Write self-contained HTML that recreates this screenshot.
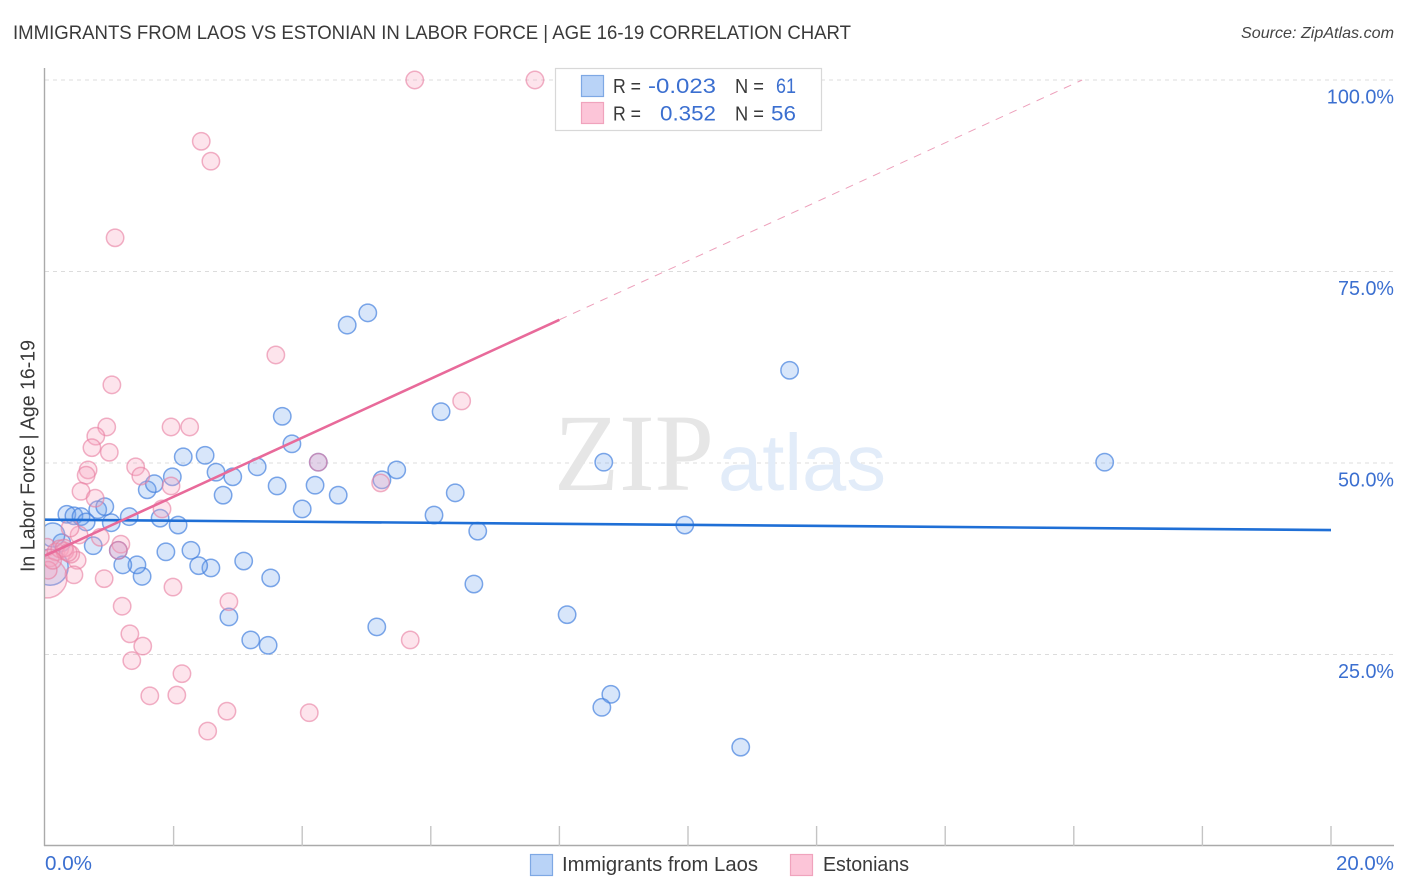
<!DOCTYPE html>
<html lang="en">
<head>
<meta charset="utf-8">
<title>Immigrants from Laos vs Estonian in Labor Force | Age 16-19 Correlation Chart</title>
<style>
html,body{margin:0;padding:0;background:#fff;width:1406px;height:892px;overflow:hidden}
svg{display:block;font-family:"Liberation Sans",sans-serif}
</style>
</head>
<body>
<svg id="chart" width="1406" height="892" viewBox="0 0 1406 892" xmlns="http://www.w3.org/2000/svg">
<defs><clipPath id="plot-clip"><rect x="45" y="60" width="1349" height="786"/></clipPath></defs>
<text x="13" y="39" font-size="19" fill="#3a3a3a" textLength="838" lengthAdjust="spacingAndGlyphs">IMMIGRANTS FROM LAOS VS ESTONIAN IN LABOR FORCE | AGE 16-19 CORRELATION CHART</text>
<text x="1394" y="38" font-size="16" font-style="italic" fill="#444" text-anchor="end" textLength="153" lengthAdjust="spacingAndGlyphs">Source: ZipAtlas.com</text>
<g id="grid"></g>
<text x="554" y="490" font-family="'Liberation Serif',serif" font-size="110" fill="#e6e6e6" textLength="160" lengthAdjust="spacingAndGlyphs">ZIP</text>
<text x="718" y="490" font-size="80" fill="#e2ecf9" textLength="168" lengthAdjust="spacingAndGlyphs">atlas</text>
<g id="axes"></g>
<g id="points" clip-path="url(#plot-clip)"></g>
<g id="lines"></g>
<text transform="translate(34.5,456) rotate(-90)" font-size="20" fill="#3a3a3a" text-anchor="middle" textLength="232" lengthAdjust="spacingAndGlyphs">In Labor Force | Age 16-19</text>
<g id="tick-labels"></g>
<g>
<rect x="555.5" y="68.5" width="266" height="62" fill="#fff" stroke="#d8d8d8" stroke-width="1.2"/>
<rect x="581.5" y="75.5" width="22" height="21" fill="#b9d3f7" stroke="#7ea8e4" stroke-width="1.2"/>
<rect x="581.5" y="102.5" width="22" height="21" fill="#fcc5d8" stroke="#f0a3bd" stroke-width="1.2"/>
<g font-size="21" lengthAdjust="spacingAndGlyphs">
<text x="613" y="93" fill="#3a3a3a" font-size="20" textLength="28" lengthAdjust="spacingAndGlyphs">R =</text>
<text x="648" y="93" fill="#3b6fd0" textLength="68" lengthAdjust="spacingAndGlyphs">-0.023</text>
<text x="735" y="93" fill="#3a3a3a" font-size="20" textLength="29" lengthAdjust="spacingAndGlyphs">N =</text>
<text x="776" y="93" fill="#3b6fd0" textLength="20" lengthAdjust="spacingAndGlyphs">61</text>
<text x="613" y="120.5" fill="#3a3a3a" font-size="20" textLength="28" lengthAdjust="spacingAndGlyphs">R =</text>
<text x="660" y="120.5" fill="#3b6fd0" textLength="56" lengthAdjust="spacingAndGlyphs">0.352</text>
<text x="735" y="120.5" fill="#3a3a3a" font-size="20" textLength="29" lengthAdjust="spacingAndGlyphs">N =</text>
<text x="771" y="120.5" fill="#3b6fd0" textLength="25" lengthAdjust="spacingAndGlyphs">56</text>
</g>
</g>
<g>
<rect x="530.5" y="854.5" width="22" height="21" fill="#b9d3f7" stroke="#7ea8e4" stroke-width="1.2"/>
<text x="562" y="871" font-size="20" fill="#3a3a3a" textLength="196" lengthAdjust="spacingAndGlyphs">Immigrants from Laos</text>
<rect x="790.5" y="854.5" width="22" height="21" fill="#fcc5d8" stroke="#f0a3bd" stroke-width="1.2"/>
<text x="823" y="871" font-size="20" fill="#3a3a3a" textLength="86" lengthAdjust="spacingAndGlyphs">Estonians</text>
</g>
</svg>
<script>
const blueX = [.34,.45,.56,.64,.82,.93,1.03,1.31,1.79,2.07,1.59,1.70,1.98,2.15,2.49,2.66,2.77,2.92,3.30,3.61,3.69,3.84,4.00,4.20,4.25,4.56,4.70,5.02,5.24,5.47,6.16,6.38,6.05,6.73,6.67,8.12,8.69,9.95,11.58,16.48,8.80,8.66,10.82,5.16,3.47,3.20,2.86,3.51,3.09,2.58,2.39,2.27,1.88,1.51,1.43,1.21,1.14,.75,.26,.12,.08];
const blueY = [43.3,43.1,43.0,42.3,43.9,44.3,42.2,43.0,42.8,41.9,46.5,47.3,48.2,50.8,51.0,48.8,45.8,48.2,49.5,47.0,56.1,52.5,44.0,47.1,50.1,45.8,68.0,69.6,47.8,49.1,56.7,46.1,43.2,41.1,34.2,30.2,50.1,41.9,62.1,50.1,19.8,18.1,12.9,28.6,26.2,26.9,29.9,35.0,37.2,36.3,36.6,38.6,38.4,35.2,36.7,36.7,38.6,39.2,39.6,40.6,36.4];
const blueWeights = {59: 1.9, 60: 4.3};
const pinkX = [.96,.79,.73,1.00,1.96,2.25,.67,.64,.56,.78,1.41,1.49,1.96,1.82,1.18,.86,.53,.39,1.14,.50,.45,.92,1.99,1.20,2.86,1.32,1.52,1.09,2.43,2.58,5.75,7.62,1.04,3.59,6.48,4.25,5.22,1.35,2.13,1.63,2.05,2.83,2.53,4.11,5.68,.03,.08,.17,.23,.31,.40,.30,.36,.03,.05,.12];
const pinkY = [54.7,53.5,52.0,51.4,54.7,54.7,49.1,48.4,46.3,45.4,49.5,48.3,47.0,44.0,39.4,40.3,40.6,41.5,38.6,37.3,35.4,34.9,33.8,31.3,31.9,27.7,26.1,79.4,92.0,89.4,100,100,60.2,64.1,58.1,50.1,47.4,24.2,22.5,19.6,19.7,17.6,15.0,17.4,26.9,39.0,37.6,38.4,38.8,38.5,38.1,38.9,38.3,35.0,36.0,37.3];
const pinkWeights = {53: 5.3};
const blueTrend = [42.6, 41.25];
const pinkIntercept = 37.9;
const pinkSlope = 3.85;
const pinkSolidEnd = 8;
const yTicks = [25, 50, 75, 100];
const yTickLabels = ["25.0%", "50.0%", "75.0%", "100.0%"];
const xTicks = [2, 4, 6, 8, 10, 12, 14, 16, 18, 20];
const xEndLabels = ["0.0%", "20.0%"];

const NS = "http://www.w3.org/2000/svg";
function sx(v){ return 45 + v * 64.3; }
function sy(v){ return 846 - v * 7.66; }
function radius(w){ return 8.7 * Math.sqrt(w); }
function make(tag, attrs, parent){
  const el = document.createElementNS(NS, tag);
  for (const k in attrs) el.setAttribute(k, attrs[k]);
  parent.appendChild(el);
  return el;
}
const grid = document.getElementById("grid");
const axes = document.getElementById("axes");
const pts = document.getElementById("points");
const lines = document.getElementById("lines");
const labels = document.getElementById("tick-labels");

yTicks.forEach(function(t, i){
  const g = make("line", {x1: 45, x2: 1394, y1: sy(t), y2: sy(t), stroke: "#dcdcdc", "stroke-width": 1, "stroke-dasharray": "4 4"}, grid);
  
  
  const lb = make("text", {x: 1394, y: sy(t) + 23.5, "font-size": 20, fill: "#3b6fd0", "text-anchor": "end", textLength: yTickLabels[i].length * 11.2, lengthAdjust: "spacingAndGlyphs"}, labels);
  lb.textContent = yTickLabels[i];
  
  
});

const yAxis = make("line", {x1: 44.5, x2: 44.5, y1: 68, y2: 846, stroke: "#aaa", "stroke-width": 1.4}, axes);


const xAxis = make("line", {x1: 44, x2: 1394, y1: 845.5, y2: 845.5, stroke: "#aaa", "stroke-width": 1.4}, axes);


xTicks.forEach(function(t){
  const k = make("line", {x1: sx(t), x2: sx(t), y1: 826, y2: 846, stroke: "#c4c4c4", "stroke-width": 1.4}, axes);
  
  
});

const x0Label = make("text", {x: 45, y: 870, "font-size": 20, fill: "#3b6fd0", textLength: 47, lengthAdjust: "spacingAndGlyphs"}, labels);
x0Label.textContent = xEndLabels[0];


const x1Label = make("text", {x: 1394, y: 870, "font-size": 20, fill: "#3b6fd0", "text-anchor": "end", textLength: 58, lengthAdjust: "spacingAndGlyphs"}, labels);
x1Label.textContent = xEndLabels[1];



blueX.forEach(function(v, i){
  const c = make("circle", {cx: sx(v), cy: sy(blueY[i]), r: radius(blueWeights[i] || 1), fill: "rgba(110,163,238,0.27)", stroke: "rgba(70,130,222,0.7)", "stroke-width": 1.5}, pts);
  
  
});
pinkX.forEach(function(v, i){
  const c = make("circle", {cx: sx(v), cy: sy(pinkY[i]), r: radius(pinkWeights[i] || 1), fill: "rgba(248,165,192,0.3)", stroke: "rgba(232,125,160,0.6)", "stroke-width": 1.5}, pts);
  
  
});

const blueLine = make("line", {x1: sx(0), x2: sx(20), y1: sy(blueTrend[0]), y2: sy(blueTrend[1]), stroke: "#1f6fd6", "stroke-width": 2.6}, lines);


const pinkLine = make("line", {x1: sx(0), x2: sx(pinkSolidEnd), y1: sy(pinkIntercept), y2: sy(pinkIntercept + pinkSlope * pinkSolidEnd), stroke: "#e86a9a", "stroke-width": 2.6}, lines);


const pinkEndX = (100 - pinkIntercept) / pinkSlope;
const pinkDash = make("line", {x1: sx(pinkSolidEnd), x2: sx(pinkEndX), y1: sy(pinkIntercept + pinkSlope * pinkSolidEnd), y2: sy(100), stroke: "#eda0bb", "stroke-width": 1, "stroke-dasharray": "8 7"}, lines);


</script>
</body>
</html>
